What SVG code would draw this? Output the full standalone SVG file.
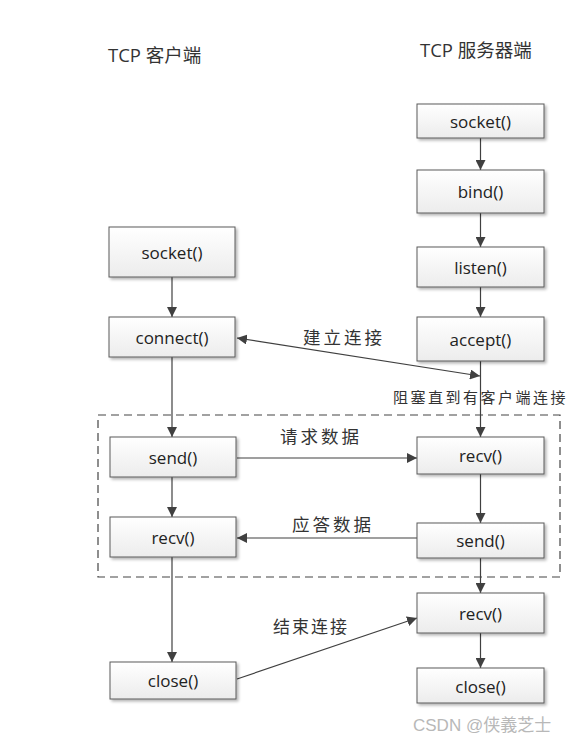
<svg xmlns="http://www.w3.org/2000/svg" width="579" height="745" viewBox="0 0 579 745">
<defs>
<linearGradient id="g" x1="0" y1="0" x2="0" y2="1">
<stop offset="0" stop-color="#ffffff"/>
<stop offset="1" stop-color="#ececec"/>
</linearGradient>
<filter id="sh" x="-10%" y="-10%" width="130%" height="140%">
<feGaussianBlur in="SourceAlpha" stdDeviation="1.5"/>
<feOffset dx="2" dy="2" result="b"/>
<feComponentTransfer><feFuncA type="linear" slope="0.3"/></feComponentTransfer>
<feMerge><feMergeNode/><feMergeNode in="SourceGraphic"/></feMerge>
</filter>
<marker id="ah" viewBox="0 0 10 10" refX="10" refY="5" markerWidth="10" markerHeight="10" markerUnits="userSpaceOnUse" orient="auto-start-reverse">
<path d="M0,0 L10,5 L0,10 z" fill="#404040"/>
</marker>
</defs>
<style>
.box{fill:url(#g);stroke:#5a5a5a;stroke-width:1;filter:url(#sh)}
.lbl{font-family:"Open Sans","Liberation Sans",sans-serif;font-size:17px;fill:#222;text-anchor:middle;dominant-baseline:central}
.cn{font-family:"Open Sans","Noto Sans CJK SC",sans-serif;fill:#333}
.ln{stroke:#404040;stroke-width:1.2;fill:none}
.ar{marker-end:url(#ah)}
</style>
<rect width="579" height="745" fill="#ffffff"/>
<g id="titles">
<text class="cn" x="108" y="62" font-size="18.5">TCP 客户端</text>
<text class="cn" x="420" y="57" font-size="18.5">TCP 服务器端</text>
</g>
<g id="region">
<rect x="98" y="415" width="462" height="162" fill="none" stroke="#444" stroke-width="1.2" stroke-dasharray="8,5"/>
</g>
<g id="connectors">
<line class="ln ar" x1="480.5" y1="138" x2="480.5" y2="170"/>
<line class="ln ar" x1="480.5" y1="213" x2="480.5" y2="247"/>
<line class="ln ar" x1="480.5" y1="287" x2="480.5" y2="317"/>
<line class="ln ar" x1="480.5" y1="361" x2="480.5" y2="437"/>
<line class="ln ar" x1="480.5" y1="474" x2="480.5" y2="523"/>
<line class="ln ar" x1="480.5" y1="558" x2="480.5" y2="593"/>
<line class="ln ar" x1="480.5" y1="633" x2="480.5" y2="668"/>
<line class="ln ar" x1="172" y1="277" x2="172" y2="317"/>
<line class="ln ar" x1="172" y1="357" x2="172" y2="437"/>
<line class="ln ar" x1="172" y1="477" x2="172" y2="517"/>
<line class="ln ar" x1="172" y1="557" x2="172" y2="662"/>
<line class="ln ar" x1="237" y1="458" x2="417" y2="458"/>
<line class="ln ar" x1="417" y1="538" x2="237" y2="538"/>
<line class="ln ar" x1="237" y1="338" x2="480" y2="376" style="marker-start:url(#ah)"/>
<line class="ln ar" x1="237" y1="679" x2="417" y2="618"/>
<text class="cn" x="303" y="344" font-size="17.5" letter-spacing="3">建立连接</text>
<text class="cn" x="393" y="403" font-size="15" letter-spacing="2.5">阻塞直到有客户端连接</text>
<text class="cn" x="280" y="443" font-size="17.5" letter-spacing="3">请求数据</text>
<text class="cn" x="292" y="531" font-size="17.5" letter-spacing="3">应答数据</text>
<text class="cn" x="273" y="633" font-size="17" letter-spacing="2">结束连接</text>
</g>
<g id="c_socket"><rect class="box" x="109" y="227" width="126" height="50"/><text class="lbl" x="172" y="252">socket()</text></g>
<g id="c_connect"><rect class="box" x="109" y="317" width="126" height="40"/><text class="lbl" x="172" y="337">connect()</text></g>
<g id="c_send"><rect class="box" x="110" y="437" width="126" height="40"/><text class="lbl" x="173" y="457">send()</text></g>
<g id="c_recv"><rect class="box" x="110" y="517" width="126" height="40"/><text class="lbl" x="173" y="537">recv()</text></g>
<g id="c_close"><rect class="box" x="110" y="662" width="126" height="37"/><text class="lbl" x="173" y="680">close()</text></g>
<g id="s_socket"><rect class="box" x="417" y="104" width="127" height="34"/><text class="lbl" x="480.5" y="121">socket()</text></g>
<g id="s_bind"><rect class="box" x="417" y="170" width="127" height="43"/><text class="lbl" x="480.5" y="191">bind()</text></g>
<g id="s_listen"><rect class="box" x="417" y="247" width="127" height="40"/><text class="lbl" x="480.5" y="267">listen()</text></g>
<g id="s_accept"><rect class="box" x="417" y="317" width="127" height="44"/><text class="lbl" x="480.5" y="339">accept()</text></g>
<g id="s_recv1"><rect class="box" x="417" y="437" width="127" height="37"/><text class="lbl" x="480.5" y="455">recv()</text></g>
<g id="s_send"><rect class="box" x="417" y="523" width="127" height="35"/><text class="lbl" x="480.5" y="540">send()</text></g>
<g id="s_recv2"><rect class="box" x="417" y="593" width="127" height="40"/><text class="lbl" x="480.5" y="613">recv()</text></g>
<g id="s_close"><rect class="box" x="417" y="668" width="127" height="35"/><text class="lbl" x="480.5" y="686">close()</text></g>
<text x="413" y="731" font-family="'Liberation Sans','Noto Sans CJK SC',sans-serif" font-size="17" fill="#b8b8b8">CSDN @侠義芝士</text>
</svg>
